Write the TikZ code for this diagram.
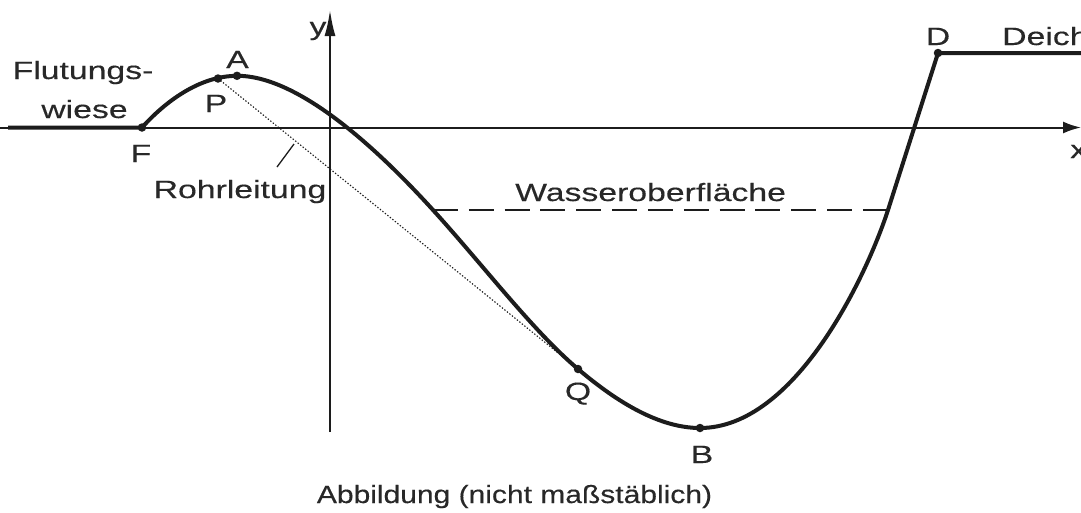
\documentclass[tikz,border=0pt]{standalone}
\usepackage{fontspec}
\setmainfont[FakeStretch=1.35,FakeBold=0.3]{Liberation Sans}
\newfontfamily\capfont[FakeStretch=1.2,FakeBold=0.3]{Liberation Sans}
\usetikzlibrary{arrows.meta}
\definecolor{ink}{RGB}{28,28,28}
\definecolor{txt}{RGB}{40,40,40}
\begin{document}
\begin{tikzpicture}[x=1pt,y=-1pt,
  lbl/.style={inner sep=0pt, text=txt, font=\fontsize{25}{30}\selectfont},
  captionlbl/.style={inner sep=0pt, text=txt, font=\capfont\fontsize{25}{30}\selectfont},
  dot/.style={circle, fill=ink, inner sep=0pt, minimum size=8.5pt},
  axisline/.style={draw=ink, line width=2pt},
  ground/.style={draw=ink, line width=4pt, line join=round},
  pipe/.style={draw=ink, line width=1.1pt, dash pattern=on 1.4pt off 1.8pt},
  water/.style={draw=ink, line width=2.4pt, dash pattern=on 25pt off 10.83pt},
  leader/.style={draw=ink, line width=1.3pt}]
\useasboundingbox (0,0) rectangle (1081,512);
% key points
\coordinate (L) at (8,127.5);
\coordinate (F) at (142,127.5);
\coordinate (P) at (218,78.5);
\coordinate (A) at (237,75.8);
\coordinate (W1) at (433,210);
\coordinate (Q) at (578,369);
\coordinate (B) at (700,428);
\coordinate (W2) at (888,210);
\coordinate (D) at (938,53);
\coordinate (R) at (1090,53);
\coordinate (xs) at (0,127.5);
\coordinate (xe) at (1081,127.5);
\coordinate (ys) at (330,432);
\coordinate (ye) at (330,10);
\coordinate (r1) at (277,167);
\coordinate (r2) at (294,144);
% axes
\draw[axisline,-{Latex[length=18pt,width=12pt]}] (xs) -- (xe);
\draw[axisline,-{Latex[length=26pt,width=11pt]}] (ys) -- (ye);
% pipe and water surface
\draw[pipe] (P) -- (Q);
\draw[water] (W1) -- (W2);
\draw[leader] (r1) -- (r2);
% terrain
\draw[ground] (L) -- (F)
  .. controls (165,102) and (199,76) .. (A)
  .. controls (303,75.5) and (388,160.5) .. (W1)
  .. controls (483,265) and (533,331) .. (Q)
  .. controls (618,403) and (660,428) .. (B)
  .. controls (795,428) and (866.4,276.4) .. (W2)
  -- (D) -- (R);
% dots
\node[dot] (dF) at (F) {};
\node[dot] (dP) at (P) {};
\node[dot] (dA) at (A) {};
\node[dot] (dQ) at (Q) {};
\node[dot] (dB) at (B) {};
\node[dot] (dD) at (D) {};
% labels
\node[lbl, anchor=base] (tFl) at (83,79) {Flutungs-};
\node[lbl, anchor=base] (tWi) at (84.5,118) {wiese};
\node[lbl, anchor=base] (tA) at (237.5,68) {A};
\node[lbl, anchor=base] (tP) at (216,112) {P};
\node[lbl, anchor=base] (tF) at (141,162) {F};
\node[lbl, anchor=base] (tQ) at (578,400) {Q};
\node[lbl, anchor=base] (tB) at (702,463) {B};
\node[lbl, anchor=base] (tD) at (938,45) {D};
\node[lbl, anchor=base west] (tDe) at (1002,45) {Deich};
\node[lbl, anchor=base] (ty) at (318,35) {y};
\node[lbl, anchor=base west] (tx) at (1070,158) {x};
\node[lbl, anchor=base] (tR) at (240,198) {Rohrleitung};
\node[lbl, anchor=base west] (tW) at (515,201) {Wasseroberfläche};
\node[captionlbl, anchor=base] (tC) at (514.5,503) {Abbildung (nicht maßstäblich)};
\end{tikzpicture}
\end{document}
